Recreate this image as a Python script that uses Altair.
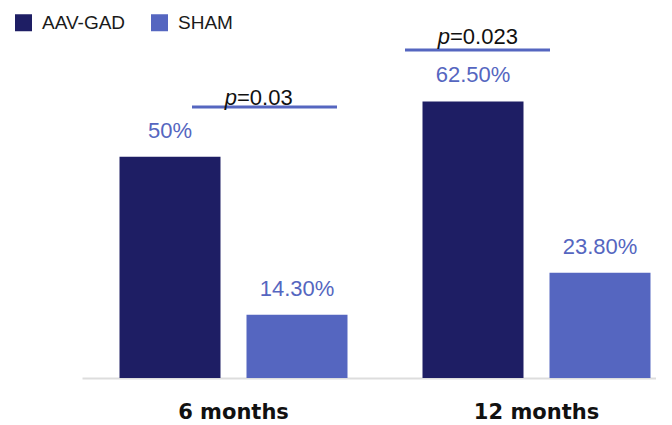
import altair as alt
import pandas as pd

categories = ["6 months", "12 months"]
groups = ["AAV-GAD", "SHAM"]
aav_values = [50, 62.5]
sham_values = [14.3, 23.8]
aav_labels = ["50%", "62.50%"]
sham_labels = ["14.30%", "23.80%"]
p_values = ["0.03", "0.023"]

colors = ["#1e1e64", "#5566c0"]

rows = []
for i, c in enumerate(categories):
    rows.append({"category": c, "group": groups[0], "value": aav_values[i], "label": aav_labels[i]})
    rows.append({"category": c, "group": groups[1], "value": sham_values[i], "label": sham_labels[i]})
bars_df = pd.DataFrame(rows)

p_df = pd.DataFrame({
    "category": categories,
    "top": [max(a, s) for a, s in zip(aav_values, sham_values)],
    "pval": p_values,
})

FONT = "Liberation Sans"

x_enc = alt.X("category:N", sort=categories,
              scale=alt.Scale(range=[0, 606], paddingInner=0, paddingOuter=0),
              axis=alt.Axis(title=None, labelAngle=0, ticks=False, tickSize=0,
                            labelFont="DejaVu Sans", labelFontWeight="bold",
                            labelFontSize=21, labelColor="#111111",
                            labelBaseline="alphabetic", labelPadding=40,
                            domainColor="#dddddd", domainWidth=2, grid=False))
y_enc = alt.Y("value:Q", scale=alt.Scale(domain=[0, 80]), axis=None)
xoff = alt.XOffset("group:N", sort=groups,
                   scale=alt.Scale(paddingInner=0.2047, paddingOuter=0.2953))

base = alt.Chart(bars_df)

bars = base.mark_bar().encode(
    x=x_enc,
    xOffset=xoff,
    y=y_enc,
    color=alt.Color("group:N", sort=groups,
                    scale=alt.Scale(domain=groups, range=colors),
                    legend=alt.Legend(title=None, orient="none", legendX=-68, legendY=-11,
                                      direction="horizontal", columns=2,
                                      symbolType="square", symbolSize=289,
                                      symbolStrokeWidth=0, labelFont=FONT,
                                      labelFontSize=19, labelColor="#1a1a1a",
                                      labelOffset=9, columnPadding=24, padding=0)),
)

value_text = base.mark_text(font=FONT, fontSize=22, color="#5566c0",
                            align="center", baseline="alphabetic", dy=-19).encode(
    x=alt.X("category:N", sort=categories),
    xOffset=alt.XOffset("group:N", sort=groups),
    y=alt.Y("value:Q"),
    text="label:N",
)

annot_style = {
    "6 months": {"x1": -41.5, "x2": 103.5, "ly": -49.7, "px": 3.5, "pdy": -52},
    "12 months": {"x1": -131.5, "x2": 13.5, "ly": -51.5, "px": -86.5, "pdy": -57.7},
}

annots = []
for c in categories:
    st = annot_style[c]
    pbase = alt.Chart(p_df).transform_filter(alt.datum.category == c)
    rule = pbase.mark_rule(color="#5566c0", strokeWidth=3,
                           xOffset=st["x1"], x2Offset=st["x2"], yOffset=st["ly"]).encode(
        x=alt.X("category:N", sort=categories, bandPosition=0.5),
        x2=alt.X2("category", bandPosition=0.5),
        y=alt.Y("top:Q"),
    )
    ptxt = pbase.mark_text(text="p", font=FONT, fontSize=22, fontStyle="italic",
                           color="#111111", align="right", baseline="alphabetic",
                           dx=st["px"], dy=st["pdy"]).encode(
        x=alt.X("category:N", sort=categories),
        y=alt.Y("top:Q"),
    )
    vtxt = pbase.transform_calculate(ptext="'=' + datum.pval").mark_text(
        font=FONT, fontSize=22, color="#111111", align="left",
        baseline="alphabetic", dx=st["px"], dy=st["pdy"]).encode(
        x=alt.X("category:N", sort=categories),
        y=alt.Y("top:Q"),
        text="ptext:N",
    )
    annots += [rule, ptxt, vtxt]

chart = alt.layer(bars, value_text, *annots).properties(
    width=574, height=354,
    autosize=alt.AutoSizeParams(type="none"),
    padding={"left": 74, "top": 16, "right": 0, "bottom": 46},
    background="white",
).configure_view(stroke=None)

chart.save("out.html", embed_options={"renderer": "svg", "actions": False})
